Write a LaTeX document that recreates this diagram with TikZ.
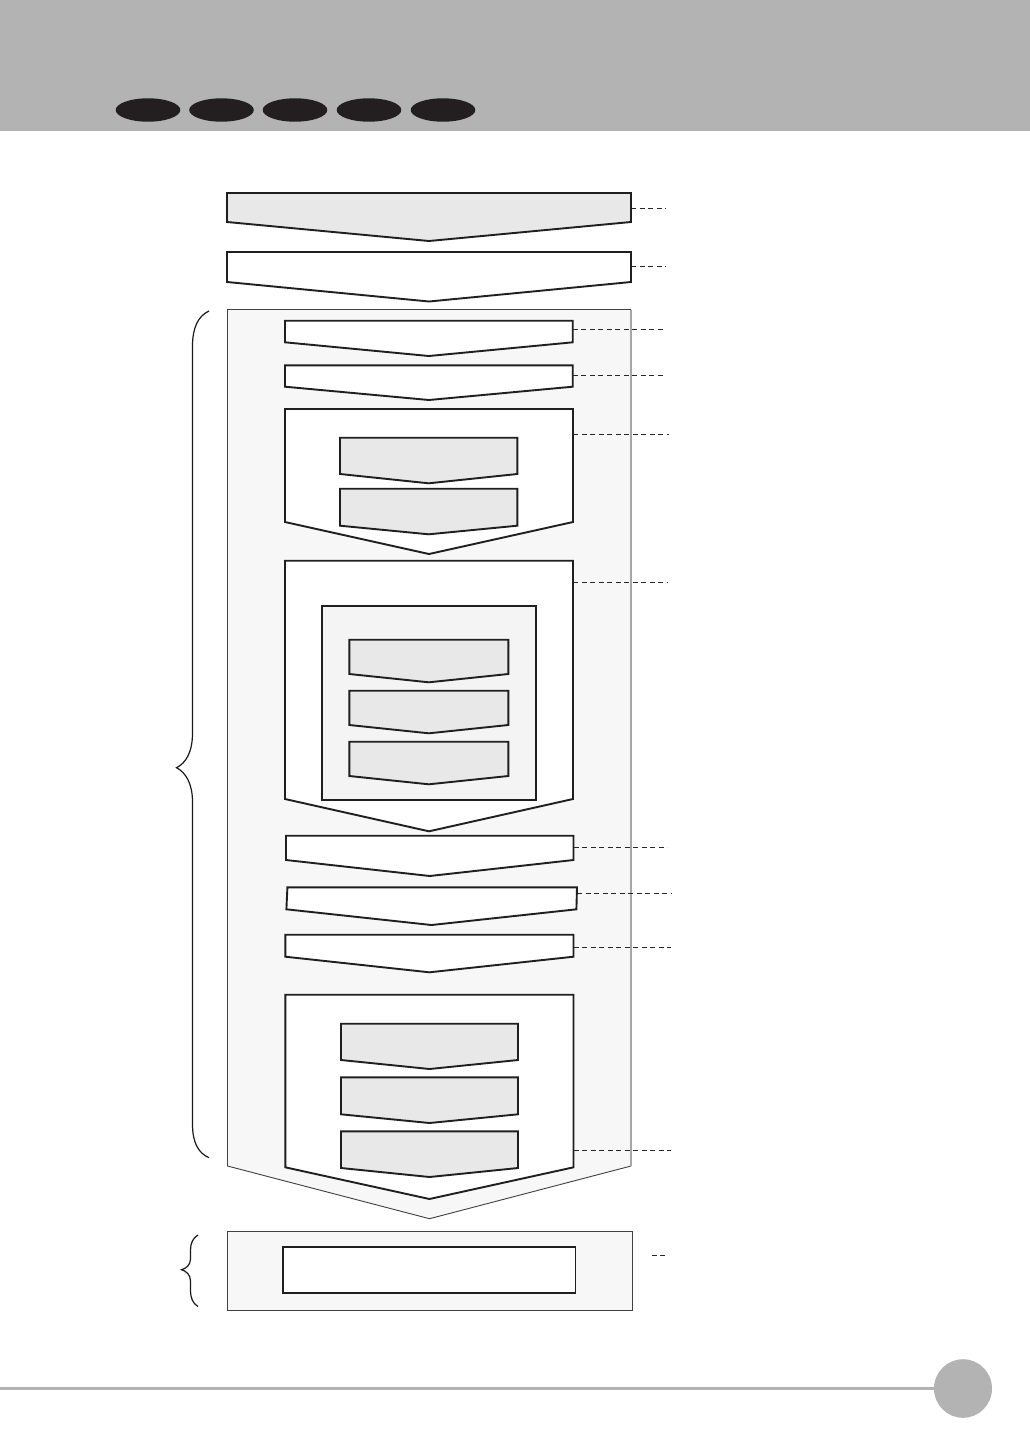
\documentclass[tikz,border=0pt]{standalone}
\usetikzlibrary{calc}
\definecolor{hdr}{HTML}{B3B3B3}
\definecolor{dotc}{HTML}{231F20}
\definecolor{gfill}{HTML}{E8E8E8}
\definecolor{pfill}{HTML}{F7F7F7}
\definecolor{ifill}{HTML}{F4F4F4}
\tikzset{
  boxline/.style={draw=black!88, line width=1.9pt, line join=miter},
  leader/.style={draw=black!85, line width=0.9pt, dash pattern=on 5pt off 3.5pt},
  panelline/.style={draw=black!75, line width=0.9pt},
  panelright/.style={draw=black!35, line width=1.8pt},
  bracestyle/.style={draw=black!90, line width=1.2pt},
}
% chevron box: x1, x2, top, side-bottom, point-y, style
\newcommand{\chevbox}[6]{\path[#6] (#1,#3) -- (#2,#3) -- (#2,#4) -- ({(#1+#2)/2},#5) -- (#1,#4) -- cycle;}
\begin{document}
\begin{tikzpicture}[x=1pt,y=-1pt]
\useasboundingbox (0,0) rectangle (1030,1456);
\fill[white] (0,0) rectangle (1030,1456);
% header
\fill[hdr] (0,0) rectangle (1030,130.5);
\foreach \cx in {148,221.5,295,369,443}
  \fill[dotc] (\cx,110) ellipse [x radius=32.3, y radius=11.7];
% footer
\draw[hdr, line width=3pt] (0,1388.3) -- (940,1388.3);
\fill[hdr] (963,1388.5) ellipse [x radius=29, y radius=29.3];

% top boxes
\chevbox{227}{631}{193}{222}{241}{boxline, fill=gfill}
\chevbox{227}{631}{252}{282}{301.5}{boxline, fill=white}
\draw[leader] (631,208.3) -- (666,208.3);
\draw[leader] (631,266.3) -- (666,266.3);

% big panel
\fill[pfill] (227.5,309.5) -- (631,309.5) -- (631,1166) -- (429.5,1218.7) -- (227.5,1166) -- cycle;
\draw[panelline] (631,1166) -- (429.5,1218.7) -- (227.5,1166) -- (227.5,309.5) -- (631,309.5);
\draw[panelright] (631,309.5) -- (631,1166);

% boxes inside panel
\chevbox{285}{572.7}{320.7}{342.3}{356}{boxline, fill=white}
\draw[leader] (572.7,329.3) -- (665,329.3);
\chevbox{285}{572.7}{365.3}{386.7}{400}{boxline, fill=white}
\draw[leader] (572.7,375.3) -- (665,375.3);

% container C
\chevbox{285}{573}{409}{522}{554}{boxline, fill=white}
\draw[leader] (573,434.3) -- (669,434.3);
\chevbox{340}{517.3}{437.7}{474}{483.3}{boxline, fill=gfill}
\chevbox{340}{517.3}{488.7}{525.7}{534.3}{boxline, fill=gfill}

% container D
\chevbox{285}{573}{560.7}{799}{831.3}{boxline, fill=white}
\draw[leader] (573,582.3) -- (667,582.3);
\draw[boxline, fill=ifill] (321.7,606) rectangle (536.3,800);
\chevbox{349.3}{508.3}{639.7}{674}{682.3}{boxline, fill=gfill}
\chevbox{349.3}{508.3}{690.7}{725}{733.3}{boxline, fill=gfill}
\chevbox{349.3}{508.3}{741.7}{776}{784.3}{boxline, fill=gfill}

% E, F, G
\chevbox{286}{573.5}{835.7}{860}{876}{boxline, fill=white}
\draw[leader] (573.5,847.3) -- (667,847.3);
\path[boxline, fill=white] (287.4,887.3) -- (577,887.3) -- (576.4,909.3) -- (431.5,925) -- (286.4,909.3) -- cycle;
\draw[leader] (577,893) -- (672,893);
\chevbox{285.3}{573.5}{934.7}{956.7}{972.3}{boxline, fill=white}
\draw[leader] (573.5,947) -- (671,947);

% container H
\chevbox{285.3}{573.5}{994.7}{1167.3}{1199}{boxline, fill=white}
\draw[leader] (573.5,1150) -- (671,1150);
\chevbox{341}{518}{1023.7}{1060}{1069}{boxline, fill=gfill}
\chevbox{341}{518}{1077.3}{1114.3}{1123}{boxline, fill=gfill}
\chevbox{341}{518}{1131.3}{1168}{1177}{boxline, fill=gfill}

% big brace
\draw[bracestyle] (209,311) .. controls (198,316) and (192.5,328) .. (192.5,346)
  -- (192.5,733) .. controls (192.5,752) and (186,763) .. (176.5,767.7)
  .. controls (186,772.5) and (192.5,784) .. (192.5,802)
  -- (192.5,1124) .. controls (192.5,1142) and (198,1153) .. (209,1157.7);

% bottom panel
\draw[panelline, fill=pfill] (227.8,1231.7) rectangle (632,1310);
\draw[boxline, fill=white] (283.2,1246.7) rectangle (575.5,1292.7);
\draw[leader] (651.5,1255) -- (667,1255);

% small brace
\draw[bracestyle] (198,1235) .. controls (193,1238) and (190.5,1243) .. (190.5,1250)
  -- (190.5,1259) .. controls (190.5,1265) and (186,1268.5) .. (181.5,1269.7)
  .. controls (186,1271) and (190.5,1274.5) .. (190.5,1281)
  -- (190.5,1291) .. controls (190.5,1298) and (193,1303.5) .. (198,1306.5);
\end{tikzpicture}
\end{document}
